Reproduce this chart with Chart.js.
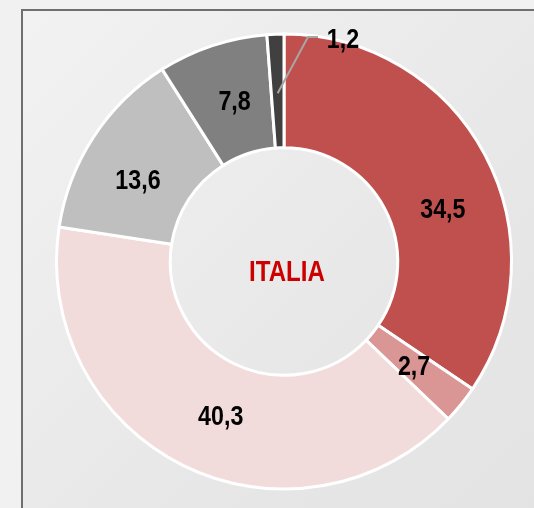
<!DOCTYPE html>
<html>
<head>
<meta charset="utf-8">
<script src="https://cdn.jsdelivr.net/npm/chart.js@4/dist/chart.umd.min.js"></script>
<style>
  html, body { margin: 0; padding: 0; }
  body {
    width: 534px; height: 508px; overflow: hidden; position: relative;
    background: #f1f1f1;
  }
  .frame {
    position: absolute; left: 21px; top: 9px; width: 600px; height: 600px;
    border: 2px solid #6f6f6f;
    background: linear-gradient(135deg, #f2f2f2 0%, #e6e6e6 60%, #e2e2e2 100%);
  }
  .wrap { position: absolute; left: 0; top: 0; width: 534px; height: 508px; }
</style>
</head>
<body>
<div class="frame"></div>
<div class="wrap"><canvas id="chart"></canvas></div>
<script>
const categories = ['A', 'B', 'C', 'D', 'E', 'F'];
const values = [34.5, 2.7, 40.3, 13.6, 7.8, 1.2];
const valueLabels = ['34,5', '2,7', '40,3', '13,6', '7,8', '1,2'];
const sliceColors = ['#c0504d', '#d99694', '#f2dcdb', '#bfbfbf', '#808080', '#404040'];
const centerTitle = 'ITALIA';

const fontFamily = "'Liberation Sans', Arial, sans-serif";

// narrow bold text: squeeze horizontally
function narrowText(ctx, text, x, y, size, color) {
  ctx.save();
  ctx.translate(x, y);
  ctx.scale(0.83, 1);
  ctx.font = 'bold ' + size + 'px ' + fontFamily;
  ctx.fillStyle = color;
  ctx.textAlign = 'center';
  ctx.textBaseline = 'middle';
  ctx.fillText(text, 0, 0);
  ctx.restore();
}

// draws the value labels and the centre title
const labelPlugin = {
  id: 'labels',
  afterDatasetsDraw(chart) {
    const ctx = chart.ctx;
    const meta = chart.getDatasetMeta(0);
    ctx.save();
    const shift = [0.17, 0, -0.07, -0.07, 0.02, 0];
    meta.data.forEach((arc, i) => {
      const p = arc.getProps(['x', 'y', 'startAngle', 'endAngle', 'innerRadius', 'outerRadius'], true);
      const mid = (p.startAngle + p.endAngle) / 2 + shift[i];
      if (i === meta.data.length - 1) {
        // small slice: label outside with leader line
        const r0 = p.innerRadius + (p.outerRadius - p.innerRadius) * 0.48;
        const x0 = p.x + Math.cos(mid) * r0;
        const y0 = p.y + Math.sin(mid) * r0;
        const x1 = p.x + 24;
        const y1 = p.y - p.outerRadius + 3;
        ctx.strokeStyle = '#a6a6a6';
        ctx.lineWidth = 2;
        ctx.beginPath();
        ctx.moveTo(x0, y0);
        ctx.lineTo(x1, y1);
        ctx.lineTo(x1 + 10, y1);
        ctx.stroke();
        narrowText(ctx, valueLabels[i], x1 + 35, y1 + 3, 28, '#000');
        return;
      }
      const r = p.outerRadius * 0.735;
      narrowText(ctx, valueLabels[i], p.x + Math.cos(mid) * r, p.y + Math.sin(mid) * r + 1, 28, '#000');
    });
    const a = meta.data[0];
    narrowText(ctx, centerTitle, a.x + 3, a.y + 11, 29, '#cc0000');
    ctx.restore();
  }
};

new Chart(document.getElementById('chart'), {
  type: 'doughnut',
  data: {
    labels: categories,
    datasets: [{
      data: values,
      backgroundColor: sliceColors,
      borderColor: '#ffffff',
      borderWidth: 3,
      borderJoinStyle: 'miter'
    }]
  },
  options: {
    responsive: true,
    maintainAspectRatio: false,
    animation: false,
    cutout: '50%',
    layout: { padding: { left: 55, right: 21, top: 32, bottom: 17 } },
    plugins: {
      legend: { display: false },
      tooltip: { enabled: false }
    }
  },
  plugins: [labelPlugin]
});
</script>
</body>
</html>
